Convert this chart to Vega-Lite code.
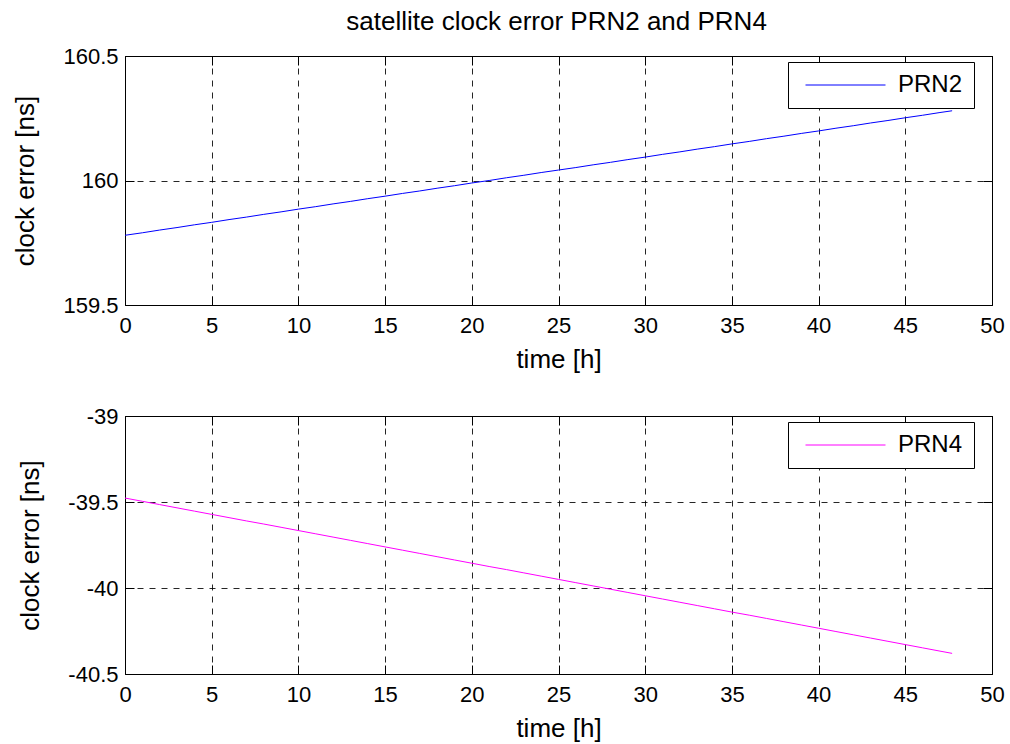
{
  "$schema": "https://vega.github.io/schema/vega-lite/v6.json",
  "background": "white",
  "padding": {"left": 12, "top": 8, "right": 12, "bottom": 5},
  "title": {"text": "satellite clock error PRN2 and PRN4", "fontSize": 26, "font": "Liberation Sans", "fontWeight": "normal", "color": "black", "offset": 10, "anchor": "middle", "dx": 48},
  "datasets": {
    "prn": [
      {"t": 0, "v": 159.780, "series": "PRN2"}, {"t": 1, "v": 159.790, "series": "PRN2"}, {"t": 2, "v": 159.801, "series": "PRN2"}, {"t": 3, "v": 159.811, "series": "PRN2"}, {"t": 4, "v": 159.822, "series": "PRN2"}, {"t": 5, "v": 159.832, "series": "PRN2"}, {"t": 6, "v": 159.843, "series": "PRN2"}, {"t": 7, "v": 159.853, "series": "PRN2"}, {"t": 8, "v": 159.864, "series": "PRN2"}, {"t": 9, "v": 159.874, "series": "PRN2"}, {"t": 10, "v": 159.885, "series": "PRN2"}, {"t": 11, "v": 159.895, "series": "PRN2"}, {"t": 12, "v": 159.906, "series": "PRN2"}, {"t": 13, "v": 159.916, "series": "PRN2"}, {"t": 14, "v": 159.927, "series": "PRN2"}, {"t": 15, "v": 159.937, "series": "PRN2"}, {"t": 16, "v": 159.948, "series": "PRN2"}, {"t": 17, "v": 159.958, "series": "PRN2"}, {"t": 18, "v": 159.969, "series": "PRN2"}, {"t": 19, "v": 159.979, "series": "PRN2"}, {"t": 20, "v": 159.990, "series": "PRN2"}, {"t": 21, "v": 160.000, "series": "PRN2"}, {"t": 22, "v": 160.011, "series": "PRN2"}, {"t": 23, "v": 160.021, "series": "PRN2"}, {"t": 24, "v": 160.032, "series": "PRN2"}, {"t": 25, "v": 160.042, "series": "PRN2"}, {"t": 26, "v": 160.052, "series": "PRN2"}, {"t": 27, "v": 160.063, "series": "PRN2"}, {"t": 28, "v": 160.073, "series": "PRN2"}, {"t": 29, "v": 160.084, "series": "PRN2"}, {"t": 30, "v": 160.094, "series": "PRN2"}, {"t": 31, "v": 160.105, "series": "PRN2"}, {"t": 32, "v": 160.115, "series": "PRN2"}, {"t": 33, "v": 160.126, "series": "PRN2"}, {"t": 34, "v": 160.136, "series": "PRN2"}, {"t": 35, "v": 160.147, "series": "PRN2"}, {"t": 36, "v": 160.157, "series": "PRN2"}, {"t": 37, "v": 160.168, "series": "PRN2"}, {"t": 38, "v": 160.178, "series": "PRN2"}, {"t": 39, "v": 160.189, "series": "PRN2"}, {"t": 40, "v": 160.199, "series": "PRN2"}, {"t": 41, "v": 160.210, "series": "PRN2"}, {"t": 42, "v": 160.220, "series": "PRN2"}, {"t": 43, "v": 160.231, "series": "PRN2"}, {"t": 44, "v": 160.241, "series": "PRN2"}, {"t": 45, "v": 160.252, "series": "PRN2"}, {"t": 46, "v": 160.262, "series": "PRN2"}, {"t": 47, "v": 160.273, "series": "PRN2"}, {"t": 47.7, "v": 160.280, "series": "PRN2"},
      {"t": 0, "v": -39.477, "series": "PRN4"}, {"t": 1, "v": -39.496, "series": "PRN4"}, {"t": 2, "v": -39.515, "series": "PRN4"}, {"t": 3, "v": -39.534, "series": "PRN4"}, {"t": 4, "v": -39.553, "series": "PRN4"}, {"t": 5, "v": -39.572, "series": "PRN4"}, {"t": 6, "v": -39.591, "series": "PRN4"}, {"t": 7, "v": -39.610, "series": "PRN4"}, {"t": 8, "v": -39.628, "series": "PRN4"}, {"t": 9, "v": -39.647, "series": "PRN4"}, {"t": 10, "v": -39.666, "series": "PRN4"}, {"t": 11, "v": -39.685, "series": "PRN4"}, {"t": 12, "v": -39.704, "series": "PRN4"}, {"t": 13, "v": -39.723, "series": "PRN4"}, {"t": 14, "v": -39.742, "series": "PRN4"}, {"t": 15, "v": -39.761, "series": "PRN4"}, {"t": 16, "v": -39.780, "series": "PRN4"}, {"t": 17, "v": -39.799, "series": "PRN4"}, {"t": 18, "v": -39.818, "series": "PRN4"}, {"t": 19, "v": -39.837, "series": "PRN4"}, {"t": 20, "v": -39.856, "series": "PRN4"}, {"t": 21, "v": -39.875, "series": "PRN4"}, {"t": 22, "v": -39.893, "series": "PRN4"}, {"t": 23, "v": -39.912, "series": "PRN4"}, {"t": 24, "v": -39.931, "series": "PRN4"}, {"t": 25, "v": -39.950, "series": "PRN4"}, {"t": 26, "v": -39.969, "series": "PRN4"}, {"t": 27, "v": -39.988, "series": "PRN4"}, {"t": 28, "v": -40.007, "series": "PRN4"}, {"t": 29, "v": -40.026, "series": "PRN4"}, {"t": 30, "v": -40.045, "series": "PRN4"}, {"t": 31, "v": -40.064, "series": "PRN4"}, {"t": 32, "v": -40.083, "series": "PRN4"}, {"t": 33, "v": -40.102, "series": "PRN4"}, {"t": 34, "v": -40.121, "series": "PRN4"}, {"t": 35, "v": -40.140, "series": "PRN4"}, {"t": 36, "v": -40.158, "series": "PRN4"}, {"t": 37, "v": -40.177, "series": "PRN4"}, {"t": 38, "v": -40.196, "series": "PRN4"}, {"t": 39, "v": -40.215, "series": "PRN4"}, {"t": 40, "v": -40.234, "series": "PRN4"}, {"t": 41, "v": -40.253, "series": "PRN4"}, {"t": 42, "v": -40.272, "series": "PRN4"}, {"t": 43, "v": -40.291, "series": "PRN4"}, {"t": 44, "v": -40.310, "series": "PRN4"}, {"t": 45, "v": -40.329, "series": "PRN4"}, {"t": 46, "v": -40.348, "series": "PRN4"}, {"t": 47, "v": -40.367, "series": "PRN4"}, {"t": 47.7, "v": -40.380, "series": "PRN4"}
    ]
  },
  "spacing": 31,
  "vconcat": [
    {
      "width": 867,
      "height": 249,
      "data": {"name": "prn"},
      "transform": [{"filter": "datum.series == 'PRN2'"}],
      "layer": [
        {
          "mark": {"type": "line", "strokeWidth": 1, "clip": true},
          "encoding": {
            "x": {"field": "t", "type": "quantitative", "scale": {"domain": [0, 50], "nice": false, "zero": false},
                  "axis": {"values": [0, 5, 10, 15, 20, 25, 30, 35, 40, 45, 50], "title": "time [h]", "labelExpr": "'' + datum.value"}},
            "y": {"field": "v", "type": "quantitative", "scale": {"domain": [159.5, 160.5], "nice": false, "zero": false},
                  "axis": {"values": [159.5, 160, 160.5], "title": "clock error [ns]", "labelExpr": "'' + datum.value"}},
            "color": {"field": "series", "type": "nominal", "scale": {"domain": ["PRN2"], "range": ["#0000ff"]},
                      "legend": {"orient": "none", "legendX": 663, "legendY": 6}}
          }
        },
        {
          "mark": {"type": "line", "strokeOpacity": 0},
          "encoding": {
            "x": {"field": "t", "type": "quantitative", "scale": {"domain": [0, 50], "nice": false, "zero": false},
                  "axis": {"orient": "top", "values": [0, 5, 10, 15, 20, 25, 30, 35, 40, 45, 50], "labels": false, "grid": false, "title": null}},
            "y": {"field": "v", "type": "quantitative", "scale": {"domain": [159.5, 160.5], "nice": false, "zero": false},
                  "axis": {"orient": "right", "values": [159.5, 160, 160.5], "labels": false, "grid": false, "title": null}}
          }
        }
      ],
      "resolve": {"axis": {"x": "independent", "y": "independent"}}
    },
    {
      "width": 867,
      "height": 258,
      "data": {"name": "prn"},
      "transform": [{"filter": "datum.series == 'PRN4'"}],
      "layer": [
        {
          "mark": {"type": "line", "strokeWidth": 1, "clip": true},
          "encoding": {
            "x": {"field": "t", "type": "quantitative", "scale": {"domain": [0, 50], "nice": false, "zero": false},
                  "axis": {"values": [0, 5, 10, 15, 20, 25, 30, 35, 40, 45, 50], "title": "time [h]", "labelExpr": "'' + datum.value"}},
            "y": {"field": "v", "type": "quantitative", "scale": {"domain": [-40.5, -39], "nice": false, "zero": false},
                  "axis": {"values": [-40.5, -40, -39.5, -39], "title": "clock error [ns]", "labelExpr": "'' + datum.value"}},
            "color": {"field": "series", "type": "nominal", "scale": {"domain": ["PRN4"], "range": ["#ff00ff"]},
                      "legend": {"orient": "none", "legendX": 663, "legendY": 6}}
          }
        },
        {
          "mark": {"type": "line", "strokeOpacity": 0},
          "encoding": {
            "x": {"field": "t", "type": "quantitative", "scale": {"domain": [0, 50], "nice": false, "zero": false},
                  "axis": {"orient": "top", "values": [0, 5, 10, 15, 20, 25, 30, 35, 40, 45, 50], "labels": false, "grid": false, "title": null}},
            "y": {"field": "v", "type": "quantitative", "scale": {"domain": [-40.5, -39], "nice": false, "zero": false},
                  "axis": {"orient": "right", "values": [-40.5, -40, -39.5, -39], "labels": false, "grid": false, "title": null}}
          }
        }
      ],
      "resolve": {"axis": {"x": "independent", "y": "independent"}, "scale": {"color": "independent"}, "legend": {"color": "independent"}}
    }
  ],
  "resolve": {"scale": {"color": "independent"}, "legend": {"color": "independent"}},
  "config": {
    "font": "Liberation Sans",
    "view": {"stroke": "black", "strokeWidth": 1},
    "axis": {
      "domain": false,
      "grid": true,
      "gridColor": "black",
      "gridDash": [6, 6],
      "gridWidth": 1,
      "gridOpacity": 0.85,
      "ticks": true,
      "tickColor": "black",
      "tickSize": -9,
      "tickWidth": 1,
      "labelFont": "Liberation Sans",
      "labelFontSize": 22,
      "labelColor": "black",
      "labelPadding": 16,
      "labelFlush": false,
      "labelOverlap": false,
      "titleFont": "Liberation Sans",
      "titleFontSize": 26,
      "titleFontWeight": "normal",
      "titleColor": "black",
      "titlePadding": 10
    },
    "axisX": {"labelPadding": 19},
    "axisY": {"titlePadding": 24},
    "legend": {
      "title": null,
      "symbolType": "stroke",
      "symbolSize": 6400,
      "symbolStrokeWidth": 1,
      "clipHeight": 24,
      "labelFont": "Liberation Sans",
      "labelFontSize": 24,
      "labelColor": "black",
      "labelOffset": 12,
      "strokeColor": "black",
      "fillColor": "white",
      "padding": 11,
      "symbolOffset": 6
    }
  }
}
